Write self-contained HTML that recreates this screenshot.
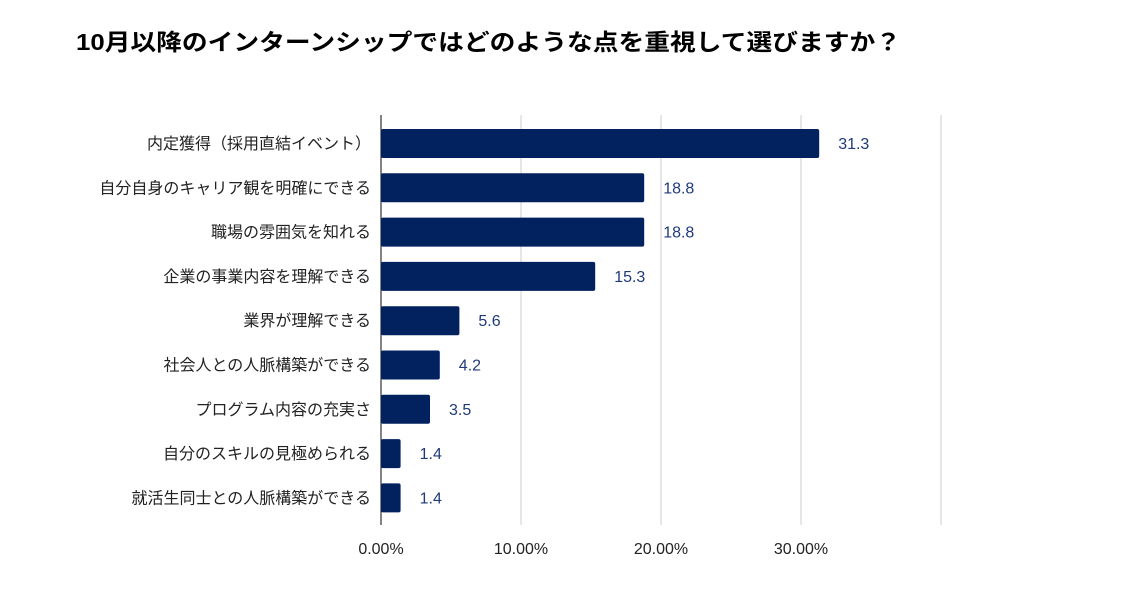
<!DOCTYPE html>
<html><head><meta charset="utf-8"><style>
body{margin:0;background:#fff;width:1138px;height:586px;overflow:hidden;font-family:"Liberation Sans","Noto Sans CJK JP",sans-serif}
</style></head><body>
<svg width="1138" height="586" xmlns="http://www.w3.org/2000/svg">
<text x="76" y="50" font-size="23" font-weight="bold" fill="#000" textLength="825" lengthAdjust="spacingAndGlyphs" font-family="Liberation Sans, Noto Sans CJK JP, sans-serif">10月以降のインターンシップではどのような点を重視して選びますか？</text>
<g id="grid"></g><g id="bars"></g><g id="labels"></g>
</svg>
<script>
const categories=["内定獲得（採用直結イベント）","自分自身のキャリア観を明確にできる","職場の雰囲気を知れる","企業の事業内容を理解できる","業界が理解できる","社会人との人脈構築ができる","プログラム内容の充実さ","自分のスキルの見極められる","就活生同士との人脈構築ができる"];
const values=[31.3,18.8,18.8,15.3,5.6,4.2,3.5,1.4,1.4];
const ticks=[0,10,20,30,40];
const tickLabels=["0.00%","10.00%","20.00%","30.00%",""];
const NS="http://www.w3.org/2000/svg";
const x=v=>381+v*14.0;
const y=i=>129+i*44.3;
function mk(t,a,p){const e=document.createElementNS(NS,t);for(const k in a)e.setAttribute(k,a[k]);p.appendChild(e);return e;}
const g=document.getElementById('grid'),b=document.getElementById('bars'),l=document.getElementById('labels');
ticks.forEach((t,i)=>{
 const ln=mk('line',{x1:x(t),x2:x(t),y1:115,y2:525,stroke:i==0?'#333':'#ccc','stroke-width':i==0?1.2:1},g);
 
 
 if(tickLabels[i]){const tx=mk('text',{x:x(t),y:554,'text-anchor':'middle','font-size':16,fill:'#222'},g);tx.textContent=tickLabels[i];
 
 }
});
categories.forEach((c,i)=>{
 const r=mk('rect',{x:x(0),y:y(i),width:x(values[i])-x(0),height:29,rx:2,fill:'#02215f'},b);
 
 
 const t=mk('text',{x:371,y:y(i)+20,'text-anchor':'end','font-size':16,fill:'#222'},l);t.textContent=c;
 
 
 const v=mk('text',{x:x(values[i])+19,y:y(i)+20,'font-size':16,fill:'#1f3a7a'},l);v.textContent=values[i].toFixed(1);
 
 
});
</script>
</body></html>
